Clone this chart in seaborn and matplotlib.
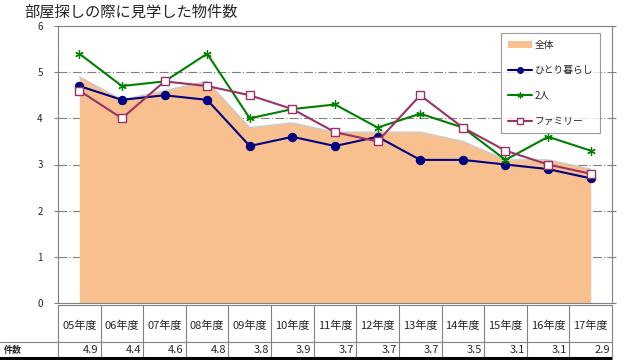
import matplotlib
matplotlib.use('Agg')
import matplotlib.pyplot as plt
import numpy as np
import pandas as pd
import seaborn as sns

# データ
years = ['05年度', '06年度', '07年度', '08年度', '09年度', '10年度', '11年度',
         '12年度', '13年度', '14年度', '15年度', '16年度', '17年度']
total = [4.9, 4.4, 4.6, 4.8, 3.8, 3.9, 3.7, 3.7, 3.7, 3.5, 3.1, 3.1, 2.9]
single = [4.7, 4.4, 4.5, 4.4, 3.4, 3.6, 3.4, 3.6, 3.1, 3.1, 3.0, 2.9, 2.7]
couple = [5.4, 4.7, 4.8, 5.4, 4.0, 4.2, 4.3, 3.8, 4.1, 3.8, 3.1, 3.6, 3.3]
family = [4.6, 4.0, 4.8, 4.7, 4.5, 4.2, 3.7, 3.5, 4.5, 3.8, 3.3, 3.0, 2.8]

sns.set_style('white')
plt.rcParams['font.family'] = ['Noto Sans CJK JP', 'DejaVu Sans']

x = np.arange(len(years))
df = pd.DataFrame({'x': x, 'single': single, 'couple': couple, 'family': family})

fig = plt.figure(figsize=(6.4, 3.6), dpi=100)
W, H = 640, 360
left, right, top, bottom = 58, 612, 26, 303
ax = fig.add_axes([left / W, 1 - bottom / H, (right - left) / W, (bottom - top) / H])

# 全体（面グラフ）
ax.fill_between(x, total, 0, color='#F8C08E', linewidth=0, label='全体', zorder=1)
ax.plot(x, total, color='#C8C8C8', linewidth=1, zorder=1.5)

sns.lineplot(data=df, x='x', y='single', ax=ax, color='#000080', marker='o',
             markersize=6, markeredgecolor='#000080', linewidth=1.5, label='ひとり暮らし', zorder=3)
sns.lineplot(data=df, x='x', y='couple', ax=ax, color='#008000', marker=(6, 2, 0),
             markersize=6, markeredgecolor='#008000', markeredgewidth=0.9, linewidth=1.5, label='2人', zorder=3)
sns.lineplot(data=df, x='x', y='family', ax=ax, color='#993366', marker='s',
             markersize=6, markerfacecolor='white', markeredgecolor='#993366',
             markeredgewidth=1, linewidth=1.5, label='ファミリー', zorder=3)

ax.set_xlim(-0.5, len(years) - 0.5)
ax.set_ylim(0, 6)
ax.set_yticks(range(7))
ax.set_yticklabels([str(i) for i in range(7)], fontsize=7)
ax.set_xticks([])
ax.set_xlabel('')
ax.set_ylabel('')
ax.tick_params(axis='y', which='both', left=True, right=True, direction='out',
               length=3, width=0.8, color='#808080', pad=8)
for y in range(1, 6):
    ax.axhline(y, color='#808080', linewidth=0.8, linestyle='-.', dashes=(8, 2, 1, 2), zorder=0.5)
for s in ax.spines.values():
    s.set_color('#808080')
    s.set_linewidth(0.8)

leg = ax.legend(loc='upper right', bbox_to_anchor=(0.978, 0.975), fontsize=7,
                frameon=True, fancybox=False, labelspacing=1.6, handlelength=2.4,
                borderpad=0.7, handletextpad=0.3, borderaxespad=0, markerscale=0.7)
leg.get_frame().set_edgecolor('#808080')
leg.get_frame().set_linewidth(0.8)

fig.text(24 / W, 1 - 12 / H, '部屋探しの際に見学した物件数', fontsize=11, va='center', ha='left')

# 表
t_top, t_mid, t_bot = 305, 342, 358
tab = fig.add_axes([0, 0, right / W, 1 - t_top / H])
unit = (right - left) / len(years)
x0 = -0.5 - left / unit
tab.set_xlim(x0, len(years) - 0.5)
tab.set_ylim(0, H - t_top)  # pixels from bottom of figure
tab.axis('off')
ytb = lambda p: H - p
for i in range(len(years) + 1):
    tab.plot([i - 0.5, i - 0.5], [ytb(t_top), 0], color='#808080', linewidth=0.8, clip_on=False)
tab.plot([-0.5, len(years) - 0.5], [ytb(t_top), ytb(t_top)], color='#808080', linewidth=0.8, clip_on=False)
tab.plot([x0, len(years) - 0.5], [ytb(t_mid), ytb(t_mid)], color='#808080', linewidth=0.8)
tab.plot([x0, len(years) - 0.5], [ytb(t_bot), ytb(t_bot)], color='black', linewidth=2.2)
for i, (lab, v) in enumerate(zip(years, total)):
    tab.text(i, ytb((t_top + t_mid) / 2 + 2), lab, fontsize=8, ha='center', va='center')
    tab.text(i + 0.45, ytb((t_mid + t_bot) / 2), f'{v:.1f}', fontsize=8, ha='right', va='center')
tab.text(x0 + 0.1, ytb((t_mid + t_bot) / 2), '件数', fontsize=6.5, fontweight='bold',
         ha='left', va='center')

fig.savefig('out.png', dpi=100)
